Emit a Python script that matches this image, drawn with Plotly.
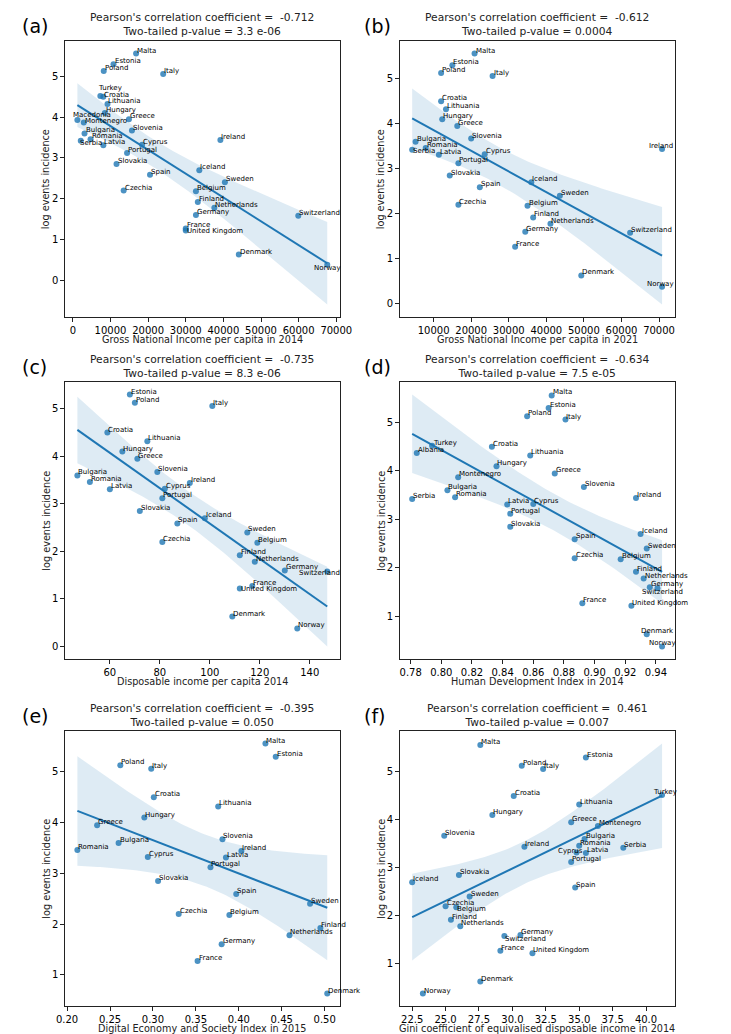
# Six regplot-style panels: log events incidence vs. socio-economic indicators
import numpy as np
import plotly.graph_objects as go

W, H = 731, 1034
FONT = "DejaVu Sans"
BLUE = "#1f77b4"

# log events incidence per country (same in every panel)
log_events = {
    "Malta": 5.56, "Estonia": 5.30, "Poland": 5.13, "Italy": 5.06, "Turkey": 4.52,
    "Croatia": 4.50, "Albania": 4.37, "Lithuania": 4.32, "Hungary": 4.10, "Greece": 3.95,
    "Macedonia": 3.93, "Montenegro": 3.87, "Slovenia": 3.67, "Bulgaria": 3.60, "Romania": 3.46,
    "Ireland": 3.44, "Serbia": 3.42, "Cyprus": 3.32, "Latvia": 3.31, "Portugal": 3.12,
    "Slovakia": 2.85, "Iceland": 2.70, "Spain": 2.59, "Sweden": 2.40, "Czechia": 2.20,
    "Belgium": 2.18, "Finland": 1.92, "Netherlands": 1.78, "Germany": 1.60, "Switzerland": 1.58,
    "France": 1.27, "United Kingdom": 1.22, "Denmark": 0.63, "Norway": 0.38,
}

# (a) GNI per capita 2014
countries_a = ["Malta", "Estonia", "Poland", "Italy", "Turkey", "Croatia", "Lithuania", "Hungary",
               "Greece", "Macedonia", "Montenegro", "Slovenia", "Bulgaria", "Romania", "Serbia",
               "Latvia", "Cyprus", "Ireland", "Portugal", "Slovakia", "Iceland", "Spain", "Sweden",
               "Czechia", "Belgium", "Finland", "Netherlands", "Germany", "Switzerland", "France",
               "United Kingdom", "Denmark", "Norway"]
gni_2014 = [16800, 10800, 8200, 24000, 7300, 8100, 9200, 8500,
            14900, 1200, 2900, 15700, 3100, 4700, 2100,
            8100, 18400, 39200, 14400, 11600, 33600, 20500, 40400,
            13500, 32700, 33200, 37600, 32700, 59900, 30000,
            30000, 44100, 67600]

# (b) GNI per capita 2021
countries_b = ["Malta", "Estonia", "Poland", "Italy", "Croatia", "Lithuania", "Hungary", "Greece",
               "Slovenia", "Bulgaria", "Romania", "Serbia", "Latvia", "Cyprus", "Ireland", "Portugal",
               "Slovakia", "Iceland", "Spain", "Sweden", "Czechia", "Belgium", "Finland",
               "Netherlands", "Germany", "France", "Switzerland", "Denmark", "Norway"]
gni_2021 = [20900, 15000, 12000, 25700, 12000, 13300, 12300, 16300,
            20000, 5200, 7900, 4300, 11400, 23600, 70800, 16600,
            14300, 36000, 22300, 43600, 16600, 35000, 36500,
            41100, 34400, 31700, 62300, 49300, 70800]

# (c) disposable income per capita 2014
countries_c = ["Estonia", "Poland", "Italy", "Croatia", "Lithuania", "Hungary", "Greece", "Slovenia",
               "Bulgaria", "Romania", "Ireland", "Latvia", "Cyprus", "Portugal", "Slovakia", "Iceland",
               "Spain", "Sweden", "Belgium", "Czechia", "Finland", "Netherlands", "Germany",
               "Switzerland", "France", "United Kingdom", "Denmark", "Norway"]
disp_income_2014 = [68, 70, 101, 59, 75, 65, 71, 79,
                    47, 52, 92, 60, 82, 81, 72, 98,
                    87, 115, 119, 81, 112, 118, 130,
                    147, 117, 112, 109, 135]

# (d) HDI 2014
countries_d = ["Malta", "Estonia", "Poland", "Italy", "Turkey", "Albania", "Croatia", "Lithuania",
               "Hungary", "Greece", "Montenegro", "Slovenia", "Bulgaria", "Romania", "Serbia",
               "Ireland", "Latvia", "Cyprus", "Portugal", "Slovakia", "Iceland", "Spain", "Sweden",
               "Czechia", "Belgium", "Finland", "Netherlands", "Germany", "Switzerland", "France",
               "United Kingdom", "Denmark", "Norway"]
hdi_2014 = [0.872, 0.870, 0.856, 0.881, 0.794, 0.784, 0.833, 0.858,
            0.836, 0.874, 0.811, 0.893, 0.804, 0.809, 0.781,
            0.927, 0.843, 0.860, 0.845, 0.845, 0.930, 0.887, 0.934,
            0.887, 0.917, 0.927, 0.932, 0.936, 0.941, 0.892,
            0.924, 0.934, 0.944]

# (e) DESI 2015
countries_e = ["Malta", "Estonia", "Poland", "Italy", "Croatia", "Lithuania", "Hungary", "Greece",
               "Slovenia", "Bulgaria", "Romania", "Ireland", "Cyprus", "Latvia", "Portugal",
               "Slovakia", "Spain", "Sweden", "Czechia", "Belgium", "Finland", "Netherlands",
               "Germany", "France", "Denmark"]
desi_2015 = [0.431, 0.443, 0.262, 0.298, 0.301, 0.376, 0.290, 0.235,
             0.381, 0.260, 0.212, 0.403, 0.294, 0.385, 0.367,
             0.306, 0.397, 0.483, 0.330, 0.389, 0.495, 0.459,
             0.380, 0.352, 0.503]

# (f) Gini 2014
countries_f = ["Malta", "Estonia", "Poland", "Italy", "Croatia", "Turkey", "Lithuania", "Hungary",
               "Greece", "Montenegro", "Slovenia", "Bulgaria", "Romania", "Ireland", "Serbia",
               "Cyprus", "Latvia", "Portugal", "Slovakia", "Iceland", "Spain", "Sweden", "Czechia",
               "Belgium", "Finland", "Netherlands", "Germany", "Switzerland", "France",
               "United Kingdom", "Denmark", "Norway"]
gini_2014 = [27.6, 35.5, 30.7, 32.3, 30.1, 41.2, 35.0, 28.5,
             34.4, 36.4, 24.9, 35.4, 35.0, 30.9, 38.3,
             34.8, 35.5, 34.4, 26.0, 22.5, 34.7, 26.8, 25.0,
             25.8, 25.4, 26.1, 30.6, 29.4, 29.1,
             31.5, 27.6, 23.3]

# label nudges in pixels (dx right, dy down)
nudges_a = {"Turkey": (-3, -5), "Croatia": (0, 1), "Macedonia": (-5, -2), "Montenegro": (0, 2),
            "Serbia": (-2, 5), "United Kingdom": (0, 4), "Norway": (-14, 6)}
nudges_b = {"Serbia": (0, 4), "Ireland": (-14, 0), "Norway": (-16, 0)}
nudges_c = {"Switzerland": (-29, 5), "United Kingdom": (0, 4)}
nudges_d = {"Switzerland": (-16, 7), "Denmark": (-7, 0), "Norway": (-14, 0)}
nudges_e = {}
nudges_f = {"Turkey": (-10, 0), "Cyprus": (-20, 1), "Belgium": (0, 5), "Switzerland": (0, 6)}

panels = [
    ("(a)", countries_a, gni_2014, nudges_a, "-0.712", "3.3 e-06",
     "Gross National Income per capita in 2014", dict(dtick=10000, tick0=0, tickformat="d")),
    ("(b)", countries_b, gni_2021, nudges_b, "-0.612", "0.0004",
     "Gross National Income per capita in 2021", dict(dtick=10000, tick0=0, tickformat="d")),
    ("(c)", countries_c, disp_income_2014, nudges_c, "-0.735", "8.3 e-06",
     "Disposable income per capita 2014", dict(dtick=20, tick0=0, tickformat="d")),
    ("(d)", countries_d, hdi_2014, nudges_d, "-0.634", "7.5 e-05",
     "Human Development Index in 2014", dict(dtick=0.02, tick0=0, tickformat=".2f")),
    ("(e)", countries_e, desi_2015, nudges_e, "-0.395", "0.050",
     "Digital Economy and Society Index in 2015", dict(dtick=0.05, tick0=0, tickformat=".2f")),
    ("(f)", countries_f, gini_2014, nudges_f, "0.461", "0.007",
     "Gini coefficient of equivalised disposable income in 2014", dict(dtick=2.5, tick0=0, tickformat=".1f")),
]

# axes boxes in pixels
cols = [(49.3, 332.3), (394, 677)]
rows = [(33, 309), (374, 651), (723, 998)]


def fit_band(x, y):
    x = np.asarray(x, float)
    y = np.asarray(y, float)
    n = len(x)
    b, a = np.polyfit(x, y, 1)
    grid = np.linspace(x.min(), x.max(), 100)
    fit = a + b * grid
    s = np.sqrt(np.sum((y - (a + b * x)) ** 2) / (n - 2))
    t = 1.96 + 2.4 / (n - 2)
    se = s * np.sqrt(1 / n + (grid - x.mean()) ** 2 / np.sum((x - x.mean()) ** 2))
    return grid, fit, fit - t * se, fit + t * se


fig = go.Figure()
annotations = []
axis_common = dict(showgrid=False, zeroline=False, showline=True, mirror=True,
                   linecolor="#222", linewidth=1, ticks="outside", ticklen=3.5,
                   tickwidth=0.8, tickcolor="#222",
                   tickfont=dict(family=FONT, size=10, color="black"))

for i, (tag, names, xv, nudges, r, p, xlabel, xfmt) in enumerate(panels):
    k = "" if i == 0 else str(i + 1)
    col, row = cols[i % 2], rows[i // 2]
    yv = [log_events[c] for c in names]
    grid, fit, lo, hi = fit_band(xv, yv)

    fig.add_trace(go.Scatter(x=xv, y=yv, mode="markers", xaxis="x" + k, yaxis="y" + k,
                             marker=dict(color=BLUE, size=6, opacity=0.8, line=dict(width=0)),
                             showlegend=False, hoverinfo="skip"))
    fig.add_trace(go.Scatter(x=list(grid) + list(grid[::-1]), y=list(hi) + list(lo[::-1]),
                             xaxis="x" + k, yaxis="y" + k, fill="toself", mode="lines",
                             fillcolor="rgba(31,119,180,0.15)", line=dict(width=0),
                             showlegend=False, hoverinfo="skip"))
    fig.add_trace(go.Scatter(x=grid, y=fit, mode="lines", xaxis="x" + k, yaxis="y" + k,
                             line=dict(color=BLUE, width=2), showlegend=False, hoverinfo="skip"))

    # matplotlib-like autoscale: 5% margins around data and band
    xmin, xmax = min(xv), max(xv)
    ymin, ymax = min(min(yv), lo.min()), max(max(yv), hi.max())
    dx, dy = xmax - xmin, ymax - ymin
    fig.update_layout({
        "xaxis" + k: dict(axis_common, domain=[col[0] / W, col[1] / W], anchor="y" + k,
                          range=[xmin - 0.05 * dx, xmax + 0.05 * dx], **xfmt),
        "yaxis" + k: dict(axis_common, domain=[1 - row[1] / H, 1 - row[0] / H], anchor="x" + k,
                          range=[ymin - 0.05 * dy, ymax + 0.05 * dy], dtick=1, tick0=0,
                          tickformat="d"),
    })

    for c, x, y in zip(names, xv, yv):
        ddx, ddy = nudges.get(c, (0, 0))
        annotations.append(dict(x=x, y=y, xref="x" + k, yref="y" + k, text=c, showarrow=False,
                                xanchor="left", yanchor="bottom", borderpad=0,
                                xshift=ddx, yshift=-2 - ddy,
                                font=dict(family=FONT, size=7, color="black")))

    cx = (col[0] + col[1]) / 2 / W
    annotations.append(dict(x=cx, y=1 - (row[0] - 16) / H, xref="paper", yref="paper",
                            text="Pearson's correlation coefficient =\u00a0 " + r +
                                 "<br>Two-tailed p-value = " + p,
                            showarrow=False, xanchor="center", yanchor="middle",
                            font=dict(family=FONT, size=10.7, color="#222")))
    annotations.append(dict(x=cx, y=1 - (row[1] + 22) / H, xref="paper", yref="paper",
                            text=xlabel, showarrow=False, xanchor="center", yanchor="middle",
                            font=dict(family=FONT, size=9.7, color="#222")))
    annotations.append(dict(x=(30 if i % 2 == 0 else 375) / W, y=1 - (row[0] + row[1]) / 2 / H,
                            xref="paper", yref="paper", text="log events incidence",
                            textangle=-90, showarrow=False, xanchor="center", yanchor="middle",
                            font=dict(family=FONT, size=9.7, color="#222")))
    annotations.append(dict(x=(3.5 if i % 2 == 0 else 355) / W, y=1 - (row[0] - 15) / H,
                            xref="paper", yref="paper", text=tag, showarrow=False,
                            xanchor="left", yanchor="middle",
                            font=dict(family=FONT, size=19, color="black")))

fig.update_layout(width=W, height=H, margin=dict(l=0, r=0, t=0, b=0),
                  plot_bgcolor="white", paper_bgcolor="white",
                  annotations=annotations, showlegend=False)

fig.write_html("out.html")
